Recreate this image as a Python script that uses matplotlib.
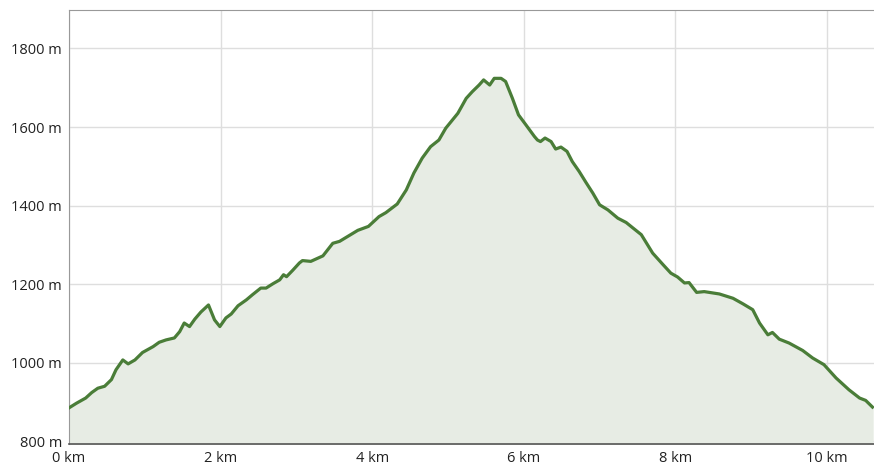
import matplotlib.pyplot as plt
from matplotlib.ticker import FuncFormatter

# Profil ketinggian: jarak (km) dan elevasi (m)
dist_km = [0.00, 0.10, 0.22, 0.30, 0.38, 0.47, 0.56, 0.62, 0.71, 0.78,
           0.87, 0.97, 1.11, 1.19, 1.28, 1.39, 1.46, 1.52, 1.59, 1.66,
           1.74, 1.84, 1.92, 1.99, 2.07, 2.14, 2.23, 2.34, 2.42, 2.53,
           2.60, 2.69, 2.78, 2.83, 2.87, 2.95, 3.04, 3.08, 3.19, 3.35,
           3.48, 3.57, 3.81, 3.95, 4.09, 4.18, 4.33, 4.45, 4.55, 4.66,
           4.77, 4.88, 4.97, 5.13, 5.24, 5.32, 5.41, 5.47, 5.55, 5.61,
           5.70, 5.76, 5.85, 5.93, 6.03, 6.14, 6.18, 6.22, 6.28, 6.36,
           6.42, 6.49, 6.57, 6.64, 6.73, 6.82, 6.91, 7.00, 7.11, 7.24,
           7.35, 7.44, 7.55, 7.70, 7.84, 7.94, 8.03, 8.12, 8.18, 8.28,
           8.38, 8.58, 8.76, 8.89, 9.02, 9.11, 9.22, 9.28, 9.37, 9.50,
           9.68, 9.81, 9.96, 10.12, 10.29, 10.43, 10.51, 10.60]
elev_m = [885, 897, 910, 924, 935, 940, 957, 982, 1007, 997,
          1007, 1026, 1041, 1052, 1058, 1063, 1079, 1101, 1092, 1111,
          1129, 1147, 1109, 1092, 1114, 1124, 1145, 1160, 1173, 1190,
          1190, 1201, 1211, 1224, 1219, 1235, 1254, 1260, 1258, 1272,
          1304, 1309, 1337, 1347, 1372, 1382, 1404, 1440, 1483, 1521,
          1550, 1567, 1597, 1635, 1673, 1690, 1707, 1720, 1707, 1724,
          1724, 1716, 1673, 1631, 1605, 1576, 1567, 1563, 1572, 1563,
          1544, 1549, 1538, 1512, 1487, 1459, 1432, 1402, 1389, 1368,
          1357, 1343, 1326, 1279, 1249, 1228, 1218, 1203, 1204, 1179,
          1181, 1175, 1164, 1150, 1135, 1101, 1071, 1077, 1060, 1050,
          1031, 1012, 995, 961, 931, 910, 904, 887]

x_ticks = [0, 2, 4, 6, 8, 10]
y_ticks = [800, 1000, 1200, 1400, 1600, 1800]

plt.rcParams['font.family'] = ['Open Sans', 'DejaVu Sans']

fig = plt.figure(figsize=(8.74, 4.69), dpi=100)
ax = fig.add_axes([69 / 874, 25 / 469, 1 - 69 / 874, 434 / 469])

ax.fill_between(dist_km, elev_m, 700, color='#e7ece4', zorder=1)
ax.plot(dist_km, elev_m, color='#4a7d38', linewidth=2.3, zorder=3,
        solid_joinstyle='round')

ax.set_xlim(0, 10.62)
ax.set_ylim(793, 1898)
ax.set_xticks(x_ticks)
ax.set_yticks(y_ticks)
ax.xaxis.set_major_formatter(FuncFormatter(lambda v, p: f'{v:.0f} km'))
ax.yaxis.set_major_formatter(FuncFormatter(lambda v, p: f'{v:.0f} m'))
ax.tick_params(length=0, labelsize=10.5, colors='#222222', pad=5)
ax.grid(color='#dedede', linewidth=1, zorder=0)
ax.set_axisbelow(True)

for side in ['top', 'left']:
    ax.spines[side].set_color('#999999')
ax.spines['right'].set_visible(False)
ax.spines['bottom'].set_color('#555555')
ax.spines['bottom'].set_linewidth(1.2)

fig.savefig('out.png', dpi=100)
